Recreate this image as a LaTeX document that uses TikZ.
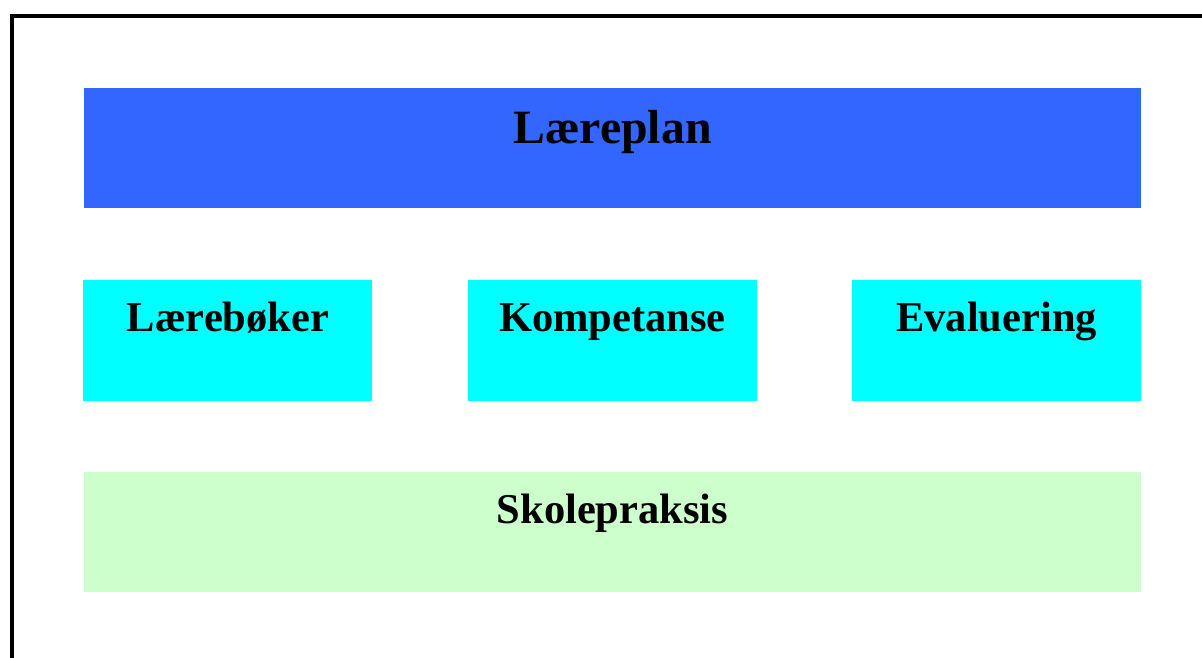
\documentclass[tikz,border=0pt]{standalone}
\usepackage{fontspec}
\setmainfont{Liberation Serif}
\definecolor{planblue}{HTML}{3366FF}
\definecolor{midcyan}{HTML}{00FFFF}
\definecolor{practicegreen}{HTML}{CCFFCC}
\begin{document}
\begin{tikzpicture}[x=1pt,y=-1pt,
  title/.style={anchor=base,inner sep=0pt,font=\bfseries\fontsize{42.5}{42.5}\selectfont}]
  \useasboundingbox (0,0) rectangle (1202,657);
  \clip (0,0) rectangle (1202,657);
  % outer frame, running off the right and bottom edges
  \draw[line width=4pt] (12,16) rectangle (1230,690);
  % curriculum band
  \fill[planblue] (84,88) rectangle (1141,208);
  \node[title,font=\bfseries\fontsize{47.8}{47.8}\selectfont] (plan) at (612.5,143) {Læreplan};
  % middle row
  \fill[midcyan] (83,280) rectangle (372,401);
  \fill[midcyan] (468,280) rectangle (757,401);
  \fill[midcyan] (852,280) rectangle (1141,401);
  \node[title] (books) at (228,331) {Lærebøker};
  \node[title] (comp) at (612.5,331) {Kompetanse};
  \node[title] (eval) at (996.5,331) {Evaluering};
  % school practice band
  \fill[practicegreen] (84,472) rectangle (1141,592);
  \node[title] (practice) at (612.5,523) {Skolepraksis};
\end{tikzpicture}
\end{document}
